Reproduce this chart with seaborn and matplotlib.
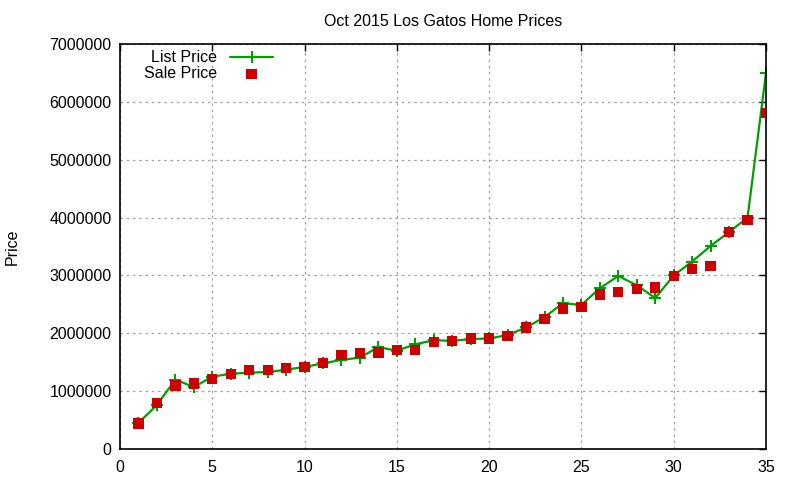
import numpy as np
import pandas as pd
import matplotlib
matplotlib.use('Agg')
import matplotlib.pyplot as plt
import seaborn as sns

# home index (sorted by list price) and prices
homes = list(range(1, 36))
list_price = [450000, 760000, 1200000, 1070000, 1250000, 1300000, 1320000, 1330000, 1370000, 1420000,
              1480000, 1540000, 1580000, 1760000, 1700000, 1810000, 1880000, 1870000, 1900000, 1910000,
              1970000, 2100000, 2280000, 2520000, 2490000, 2780000, 2990000, 2830000, 2610000, 3000000,
              3240000, 3510000, 3750000, 4000000, 6500000]
sale_price = [440000, 800000, 1100000, 1130000, 1210000, 1300000, 1370000, 1360000, 1400000, 1420000,
              1490000, 1620000, 1660000, 1670000, 1710000, 1710000, 1850000, 1870000, 1910000, 1910000,
              1950000, 2100000, 2250000, 2430000, 2460000, 2670000, 2710000, 2770000, 2790000, 2990000,
              3110000, 3160000, 3750000, 3960000, 5810000]

df = pd.DataFrame({'home': homes, 'list': list_price, 'sale': sale_price})

sns.set_theme(style='white')
plt.rcParams['font.family'] = ['Liberation Sans', 'DejaVu Sans']
plt.rcParams['text.color'] = 'black'
plt.rcParams['axes.labelcolor'] = 'black'

fig = plt.figure(figsize=(8, 4.8), dpi=100)
ax = fig.add_axes([0.15, 0.0646, 0.8075, 0.8437])

green = '#00a000'
red = '#cc0000'

sns.lineplot(data=df, x='home', y='list', ax=ax, color=green, linewidth=1.6,
             marker='+', markersize=8, markeredgewidth=1.5, markeredgecolor=green,
             label='List Price')
sns.scatterplot(data=df, x='home', y='sale', ax=ax, color=red, marker='s', s=55,
                edgecolor='none', label='Sale Price', zorder=3)

ax.set_xlim(0, 35)
ax.set_ylim(0, 7000000)
ax.set_xticks(range(0, 36, 5))
yt = list(range(0, 7000001, 1000000))
ax.set_yticks(yt)
ax.set_yticklabels([str(v) for v in yt])

ax.grid(True, linestyle=(0, (2, 3)), color='#a0a0a0', linewidth=0.9)
ax.tick_params(direction='in', length=5, width=1, top=True, right=True,
               labelsize=11.5, colors='black', pad=6)
ax.tick_params(axis='x', pad=8)
for s in ax.spines.values():
    s.set_color('black')
    s.set_linewidth(1.2)

ax.set_xlabel('')
ax.set_ylabel('Price', fontsize=11.5, labelpad=21)
ax.set_title('Oct 2015 Los Gatos Home Prices', fontsize=11.5, pad=13, color='black')

leg = ax.legend(loc='upper left', bbox_to_anchor=(0.02, 1.012), frameon=False,
                markerfirst=False, fontsize=11.5, handlelength=2.7,
                labelspacing=0.05, borderpad=0.2, handletextpad=0.8)

fig.savefig('out.png', dpi=100)
